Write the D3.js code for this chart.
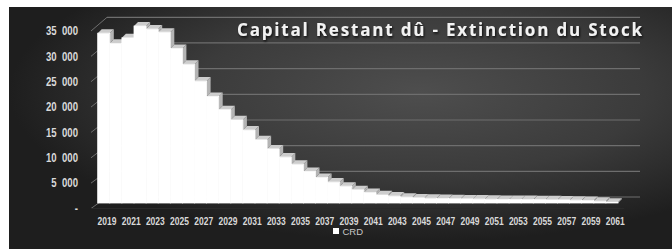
<!DOCTYPE html>
<html>
<head>
<meta charset="utf-8">
<script src="https://cdn.jsdelivr.net/npm/d3@7"></script>
<style>
  html, body { margin: 0; padding: 0; background: #fff; }
  svg { display: block; }
</style>
</head>
<body>
<div id="chart"></div>
<script>
// years shown on the category axis, one column per year
var years = d3.range(2019, 2062);
// capital restant du (CRD)
var crd = [33300, 31300, 32400, 34700, 34100, 33500, 30300, 27200, 23900, 20900,
           18300, 16300, 14300, 12400, 10600, 9000, 7600, 6200, 5000, 4100,
           3300, 2600, 2050, 1600, 1350, 1150, 1000, 930, 880, 840,
           800, 770, 740, 710, 690, 670, 650, 630, 600, 560,
           480, 350, 150];
var yTicks = [0, 5000, 10000, 15000, 20000, 25000, 30000, 35000];
var title = "Capital Restant dû - Extinction du Stock";
var seriesName = "CRD";

var width = 672, height = 249;
var labelFont = "'Liberation Sans', Arial, sans-serif";

var svg = d3.select("#chart").append("svg")
    .attr("width", width)
    .attr("height", height);

var defs = svg.append("defs");
var bg = defs.append("radialGradient")
    .attr("id", "bg")
    .attr("cx", "62%").attr("cy", "35%").attr("r", "62%")
    .attr("fx", "62%").attr("fy", "35%");
bg.append("stop").attr("offset", "0%").attr("stop-color", "#4e4e4e");
bg.append("stop").attr("offset", "55%").attr("stop-color", "#3b3b3b");
bg.append("stop").attr("offset", "100%").attr("stop-color", "#1e1e1e");

var shadow = defs.append("filter").attr("id", "shadow")
    .attr("x", "-5%").attr("y", "-30%").attr("width", "110%").attr("height", "160%");
shadow.append("feDropShadow")
    .attr("dx", 1).attr("dy", 1.5).attr("stdDeviation", 1)
    .attr("flood-color", "#000").attr("flood-opacity", 0.8);

svg.append("rect")
    .attr("x", 9).attr("y", 7)
    .attr("width", width - 9).attr("height", height - 7)
    .attr("fill", "url(#bg)");

// 3d geometry: front plane (labels), column faces, back wall
var base = 203;
var xBar = d3.scaleBand()
    .domain(years)
    .range([97.7, 618])
    .padding(0);
var yBar = d3.scaleLinear().domain([0, 35000]).range([base, 24.5]);
var yBack = d3.scaleLinear().domain([0, 35000]).range([197, 17.3]);
var yFront = d3.scaleLinear().domain([0, 35000]).range([208.5, 31]);
var depth = { dx: 4, dy: 4 };

// back wall gridlines
svg.selectAll(".grid")
    .data(yTicks)
    .enter().append("line")
    .attr("class", "grid")
    .attr("x1", 107).attr("x2", 640)
    .attr("y1", function(d) { return yBack(d) })
    .attr("y2", function(d) { return yBack(d) })
    .attr("stroke", "#6e6e6e")
    .attr("stroke-width", 1.2);

// little diagonal ticks on the left
svg.selectAll(".ytick")
    .data(yTicks)
    .enter().append("line")
    .attr("class", "ytick")
    .attr("x1", 91).attr("x2", 107)
    .attr("y1", function(d) { return yFront(d) })
    .attr("y2", function(d) { return yBack(d) })
    .attr("stroke", "#6e6e6e")
    .attr("stroke-width", 1);

svg.append("line")
    .attr("x1", 91).attr("x2", 624)
    .attr("y1", 208.5).attr("y2", 208.5)
    .attr("stroke", "#2a2a2a")
    .attr("stroke-width", 1);

// columns: gray side/top faces first, then every white front on top
var data = years.map(function(y, i) {
  return { year: y, value: crd[i], next: i < crd.length - 1 ? crd[i + 1] : 0 }
});
var bw = xBar.bandwidth();

var faces = svg.append("g").attr("class", "faces");

faces.selectAll(".side")
    .data(data.filter(function(d) { return d.next < d.value }))
    .enter().append("path")
    .attr("class", "side")
    .attr("fill", "#b4b4b4")
    .attr("d", function(d) {
      var x1 = xBar(d.year) + bw, y = yBar(d.value), yn = yBar(d.next);
      return "M" + x1 + "," + y + "L" + (x1 + depth.dx) + "," + (y - depth.dy) +
             "L" + (x1 + depth.dx) + "," + (yn - depth.dy) + "L" + x1 + "," + yn + "Z";
    });

faces.selectAll(".top")
    .data(data)
    .enter().append("path")
    .attr("class", "top")
    .attr("fill", "#cdcdcd")
    .attr("d", function(d) {
      var x0 = xBar(d.year), y = yBar(d.value);
      return "M" + x0 + "," + y + "L" + (x0 + bw) + "," + y +
             "L" + (x0 + bw + depth.dx) + "," + (y - depth.dy) +
             "L" + (x0 + depth.dx) + "," + (y - depth.dy) + "Z";
    });

svg.append("g").attr("class", "fronts")
  .selectAll("rect")
    .data(data)
    .enter().append("rect")
    .attr("x", function(d) { return xBar(d.year) })
    .attr("y", function(d) { return yBar(d.value) })
    .attr("width", bw)
    .attr("height", function(d) { return base - yBar(d.value) })
    .attr("fill", "#ffffff")
    .attr("stroke", "#ffffff")
    .attr("stroke-width", 0.8);

// value labels (condensed)
svg.selectAll(".ylabel")
    .data(yTicks)
    .enter().append("text")
    .attr("class", "ylabel")
    .attr("transform", function(d) { return "translate(78," + yFront(d) + ") scale(0.8,1)" })
    .attr("dy", "0.36em")
    .attr("text-anchor", "end")
    .attr("font-family", labelFont)
    .attr("font-weight", "bold")
    .attr("font-size", "12px")
    .attr("fill", "#d9d9d9")
    .text(function(d) {
      return d === 0 ? "-" : d3.format(",")(d).replace(",", "\u00a0\u00a0")
    });

// year labels, every other year
var xAxis = d3.axisBottom(xBar)
    .tickValues(years.filter(function(y) { return (y - 2019) % 2 === 0 }))
    .tickSize(0)
    .tickPadding(0)
    .tickFormat(d3.format("d"));

var gx = svg.append("g")
    .attr("transform", "translate(3.2,216.5)")
    .call(xAxis);
gx.select(".domain").remove();
gx.selectAll("text")
    .attr("transform", "scale(0.74,1)")
    .attr("font-family", labelFont)
    .attr("font-weight", "bold")
    .attr("font-size", "11.5px")
    .attr("fill", "#d9d9d9");

// title
svg.append("text")
    .attr("x", 237)
    .attr("y", 36)
    .attr("textLength", 405)
    .attr("lengthAdjust", "spacing")
    .attr("font-family", "'Open Sans', 'Noto Sans', sans-serif")
    .attr("font-weight", "bold")
    .attr("font-size", "17px")
    .attr("fill", "#f2f2f2")
    .attr("filter", "url(#shadow)")
    .text(title);

// legend
svg.append("rect")
    .attr("x", 333).attr("y", 228)
    .attr("width", 6).attr("height", 6)
    .attr("fill", "#ffffff");
svg.append("text")
    .attr("x", 342.5)
    .attr("y", 235)
    .attr("font-family", labelFont)
    .attr("font-size", "9.5px")
    .attr("fill", "#c8c8c8")
    .text(seriesName);
</script>
</body>
</html>
